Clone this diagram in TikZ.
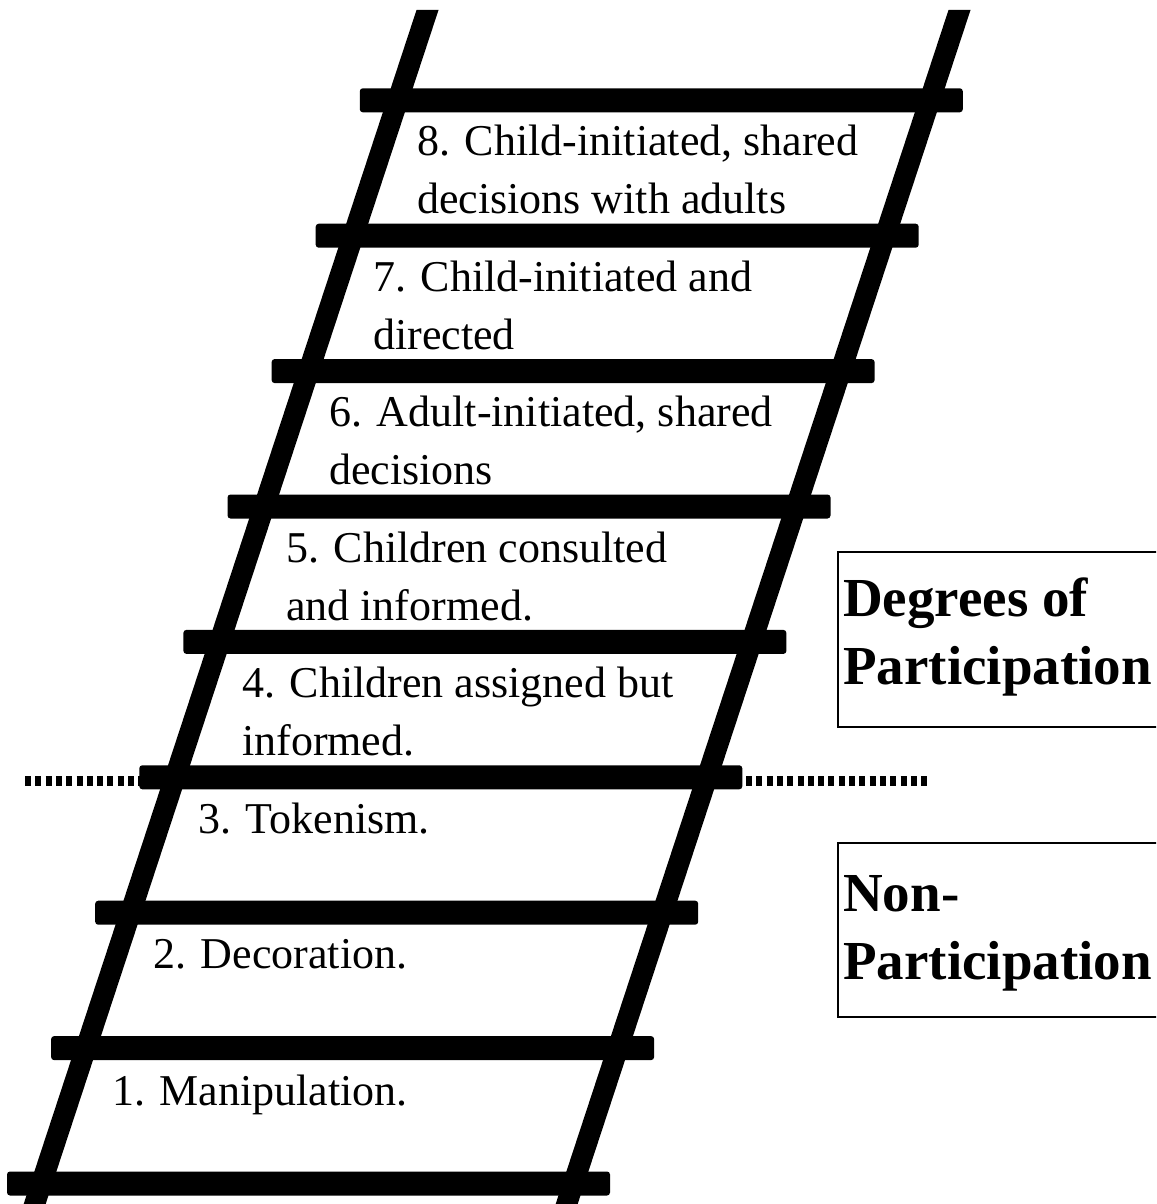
\documentclass[tikz,border=0pt]{standalone}
\usepackage{fontspec}
\setmainfont{Liberation Serif}
\tikzset{
  rung/.style={fill=black, rounded corners=3pt},
  steplabel/.style={anchor=base west, inner sep=0pt, align=left,
    font=\fontsize{44}{58}\selectfont},
  headbox/.style={draw, line width=1.3pt},
  headtext/.style={anchor=base west, inner sep=0pt, align=left,
    font=\fontsize{55}{68}\selectfont\bfseries},
}
\begin{document}
\begin{tikzpicture}[x=1pt,y=-1pt]
	\useasboundingbox (0,0) rectangle (1156,1204);
	\clip (0,0) rectangle (1156,1204);

	% dividing line
	\draw [line width=9.5pt, dash pattern=on 6pt off 4.3pt] (25,781) -- (927,781);

	% rails
	\fill (416.5,10) -- (438.5,10) -- (43.7,1210) -- (21.7,1210) -- cycle;
	\fill (948.5,10) -- (970.5,10) -- (575.7,1210) -- (553.7,1210) -- cycle;

	% rungs
	\foreach \k in {0,...,8}
		\fill [rung] ({7+44.1*\k},{1171.5-135.4*\k}) rectangle ++(603,24);

	% labels (base = last line)
	\node [steplabel] (s8) at (417,213) {8. Child-initiated, shared\\decisions with adults};
	\node [steplabel] (s7) at (373,349) {7. Child-initiated and\\directed};
	\node [steplabel] (s6) at (329,484) {6. Adult-initiated, shared\\decisions};
	\node [steplabel] (s5) at (286,620) {5. Children consulted\\and informed.};
	\node [steplabel] (s4) at (242,755) {4. Children assigned but\\informed.};
	\node [steplabel] (s3) at (198,833) {3. Tokenism.};
	\node [steplabel] (s2) at (153,968) {2. Decoration.};
	\node [steplabel] (s1) at (112,1105) {1. Manipulation.};

	% side boxes
	\draw [headbox] (838,552) rectangle (1175,727);
	\node [headtext] (dp) at (843,684) {Degrees of\\Participation};

	\draw [headbox] (838,843) rectangle (1175,1017);
	\node [headtext] (np) at (843,979) {Non-\\Participation};
\end{tikzpicture}
\end{document}
